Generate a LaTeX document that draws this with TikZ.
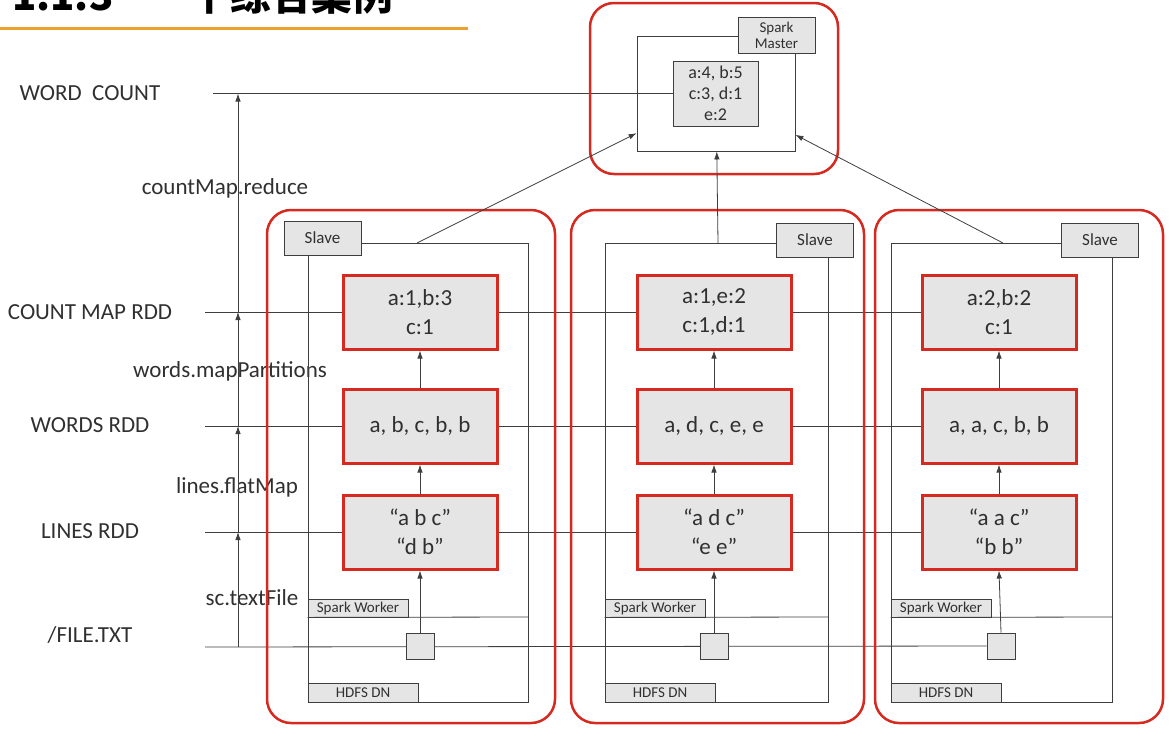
\documentclass[tikz,border=0pt]{standalone}
\usepackage{fontspec}
\setmainfont{Carlito}
\newfontfamily\cjk{Noto Sans CJK SC}
\usetikzlibrary{arrows.meta,positioning,backgrounds}

\definecolor{sparkred}{RGB}{214,42,32}
\definecolor{boxgray}{RGB}{229,229,229}
\definecolor{linegray}{RGB}{62,62,62}
\definecolor{txtgray}{RGB}{48,48,48}
\definecolor{titleorange}{RGB}{236,162,44}

\tikzset{
  level label/.style={font=\fontsize{23}{27}\selectfont, text=txtgray},
  op label/.style={font=\fontsize{23}{27}\selectfont, text=txtgray},
  rdd box/.style={draw=sparkred, line width=3pt, fill=boxgray, minimum width=154pt, minimum height=74pt, inner sep=0pt, align=center, text=txtgray, font=\fontsize{23}{29}\selectfont},
  slave box/.style={draw=linegray, line width=0.8pt, fill=boxgray, minimum width=77pt, minimum height=34pt, inner sep=0pt, text=txtgray, font=\fontsize{17}{19}\selectfont},
  small tag/.style={draw=linegray, line width=0.8pt, fill=boxgray, minimum height=18pt, inner sep=0pt, text=txtgray, font=\fontsize{15}{16}\selectfont},
  block/.style={draw=linegray, line width=0.8pt, fill=boxgray, minimum width=28pt, minimum height=26pt, inner sep=0pt},
  container/.style={draw=sparkred, line width=2.5pt, rounded corners=24pt},
  nodeframe/.style={draw=linegray, line width=0.8pt},
  wire/.style={draw=linegray, line width=0.8pt},
  arr/.style={wire, -{Latex[length=8pt,width=5.5pt]}},
}

\begin{document}
\begin{tikzpicture}[x=1pt, y=-1pt]
  \useasboundingbox (0,0) rectangle (1174,742);

  % Title (cut off at the top)
  \node[anchor=base west, inner sep=0pt, text=black, font=\cjk\bfseries\fontsize{40}{40}\selectfont] (num) at (12,10) {1.1.3};
  \node[anchor=base west, inner sep=0pt, text=black, font=\cjk\bfseries\fontsize{40.6}{41}\selectfont] (title) at (149,10) {一个综合案例};
  \draw[titleorange, line width=3pt] (0,28) -- (468,28);

  % Level labels
  \node[level label] (wordcount) at (90,93) {WORD\ \ COUNT};
  \node[level label] (countmap) at (90,312) {COUNT MAP RDD};
  \node[level label] (wordsrdd) at (90,425) {WORDS RDD};
  \node[level label] (linesrdd) at (90,531) {LINES RDD};
  \node[level label] (filetxt) at (90,635) {/FILE.TXT};

  % Operations
  \node[op label] (reduce) at (225,188) {countMap.reduce};
  \node[op label] (mappart) at (230,371) {words.mapPartitions};
  \node[op label] (flatmap) at (237,487) {lines.flatMap};
  \node[op label] (textfile) at (252,598) {sc.textFile};

  % Level line ends
  \coordinate (lwc) at (213,93.5);
  \coordinate (lcm) at (205,312);
  \coordinate (lwd) at (205,426);
  \coordinate (lln) at (205,532);
  \coordinate (lfl) at (205,647);
  \coordinate (a0) at (238,647);
  \coordinate (a1) at (238,532);
  \coordinate (a2) at (238,426);
  \coordinate (a3) at (238,312);
  \coordinate (a4) at (238,93.5);

  % Master
  \draw[container] (590,3) rectangle (838,174);
  \node[nodeframe, minimum width=158pt, minimum height=115pt, inner sep=0pt] (mframe) at (716,93.5) {};
  \node[slave box, align=center, minimum height=36pt, font=\fontsize{15}{16}\selectfont] (mmaster) at (776.5,35) {Spark\\Master};
  \node[slave box, align=center, minimum width=85pt, minimum height=65pt, font=\fontsize{18}{21}\selectfont] (mresult) at (715.5,93.5) {a:4, b:5\\c:3, d:1\\e:2};

  % Worker 1
  \draw[container] (267,210) rectangle (555,723);
  \draw[nodeframe] (308,243) rectangle (528,702);
  \node[slave box] (slave1) at (322.5,238) {Slave};
  \node[rdd box] (cm1) at (420,312) {a:1,b:3\\c:1};
  \node[rdd box] (words1) at (420,426) {a, b, c, b, b};
  \node[rdd box] (lines1) at (420,532) {“a b c”\\“d b”};
  \node[block] (sq1) at (420,646) {};
  \node[small tag, minimum width=100pt] (sw1) at (358,608) {Spark Worker};
  \node[small tag, minimum width=110pt, minimum height=19pt] (hd1) at (363,692.5) {HDFS DN};
  \draw[wire] (sw1.south west) -- (528,617);
  \coordinate (up1) at (417,243);

  % Worker 2
  \draw[container] (571,210) rectangle (864,723);
  \draw[nodeframe] (605,243) rectangle (828,702);
  \node[slave box] (slave2) at (815,240) {Slave};
  \node[rdd box] (cm2) at (714,312) {a:1,e:2\\c:1,d:1};
  \node[rdd box] (words2) at (714,426) {a, d, c, e, e};
  \node[rdd box] (lines2) at (714,532) {“a d c”\\“e e”};
  \node[block] (sq2) at (714,646) {};
  \node[small tag, minimum width=100pt] (sw2) at (655,608) {Spark Worker};
  \node[small tag, minimum width=110pt, minimum height=19pt] (hd2) at (660,692.5) {HDFS DN};
  \draw[wire] (sw2.south west) -- (828,617);
  \coordinate (up2) at (718,243);

  % Worker 3
  \draw[container] (875,210) rectangle (1163,723);
  \draw[nodeframe] (891,243) rectangle (1112,702);
  \node[slave box] (slave3) at (1100,240) {Slave};
  \node[rdd box] (cm3) at (999,312) {a:2,b:2\\c:1};
  \node[rdd box] (words3) at (999,426) {a, a, c, b, b};
  \node[rdd box] (lines3) at (999,532) {“a a c”\\“b b”};
  \node[block] (sq3) at (1001,646) {};
  \node[small tag, minimum width=100pt] (sw3) at (941,608) {Spark Worker};
  \node[small tag, minimum width=110pt, minimum height=19pt] (hd3) at (946,692.5) {HDFS DN};
  \draw[wire] (sw3.south west) -- (1112,617);
  \coordinate (up3) at (1003,243);

  % Level lines
  \begin{scope}[on background layer]
    \draw[wire] (lwc) -- (mresult.west);
    \draw[wire] (lcm) -- (cm3.west);
    \draw[wire] (lwd) -- (words3.west);
    \draw[wire] (lln) -- (lines3.west);
    \draw[wire] (lfl) -- (sq3.west);
  \end{scope}

  % Arrows
  \draw[arr] (a0) -- (a1);
  \draw[arr] (a1) -- (a2);
  \draw[arr] (a2) -- (a3);
  \draw[arr] (a3) -- (a4);

  \draw[arr] (sq1.north) -- (lines1.south);
  \draw[arr] (lines1.north) -- (words1.south);
  \draw[arr] (words1.north) -- (cm1.south);
  \draw[arr] (sq2.north) -- (lines2.south);
  \draw[arr] (lines2.north) -- (words2.south);
  \draw[arr] (words2.north) -- (cm2.south);
  \draw[arr] (sq3.north) -- (lines3.south);
  \draw[arr] (lines3.north) -- (words3.south);
  \draw[arr] (words3.north) -- (cm3.south);

  \draw[arr] (up1) -- (mframe);
  \draw[arr] (up2) -- (mframe);
  \draw[arr] (up3) -- (mframe);
\end{tikzpicture}
\end{document}
